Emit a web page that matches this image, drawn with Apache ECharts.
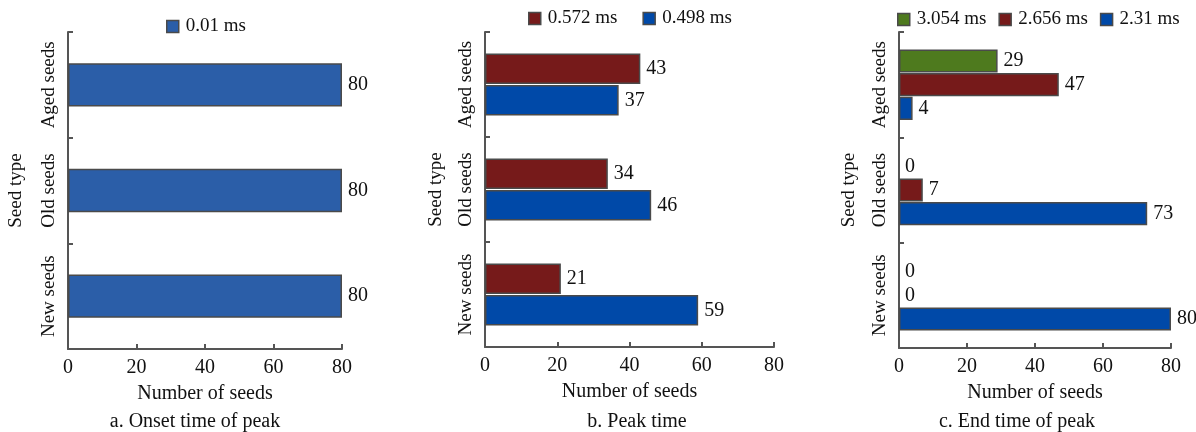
<!DOCTYPE html>
<html>
<head>
<meta charset="utf-8">
<title>Seed peak timing</title>
<script src="https://cdn.jsdelivr.net/npm/echarts@6/dist/echarts.min.js"></script>
<style>
  html, body { margin: 0; padding: 0; background: #fff; }
  #chart { width: 1196px; height: 432px; }
</style>
</head>
<body>
<div id="chart"></div>
<script>
// Seed categories, bottom to top
const categories = ['New seeds', 'Old seeds', 'Aged seeds'];
const xTicks = [0, 20, 40, 60, 80];

// a. Onset time of peak
const onsetNames = ['0.01 ms'];
const onset001 = [80, 80, 80];

// b. Peak time (first listed is drawn on top in each group)
const peakNames = ['0.572 ms', '0.498 ms'];
const peak0572 = [21, 34, 43];
const peak0498 = [59, 46, 37];

// c. End time of peak
const endNames = ['3.054 ms', '2.656 ms', '2.31 ms'];
const end3054 = [0, 0, 29];
const end2656 = [0, 7, 47];
const end231 = [80, 73, 4];

const panelTitles = ['a. Onset time of peak', 'b. Peak time', 'c. End time of peak'];
const xName = 'Number of seeds';
const yName = 'Seed type';

const FONT = '"Liberation Serif", "Times New Roman", serif';
const AXIS_COLOR = '#555';
const TEXT_COLOR = '#111';
const BAR_EDGE = '#4a4a4a';

const panels = [
  {
    grid: { left: 68, top: 32, width: 274, height: 317 },
    names: onsetNames, values: [onset001], colors: ['#2b5ea8'],
    legend: { left: 161, top: 12, itemGap: 25 },
    yNameGap: 42, labelMargin: 9, catGap: '59%', barGap: '5%',
    titleX: 195
  },
  {
    grid: { left: 485, top: 32, width: 289, height: 315 },
    names: peakNames, values: [peak0572, peak0498], colors: ['#761a1a', '#0049a8'],
    legend: { left: 523, top: 4, itemGap: 25 },
    yNameGap: 39, labelMargin: 9, catGap: '41%', barGap: '4%',
    titleX: 637
  },
  {
    grid: { left: 899, top: 32, width: 272, height: 316 },
    names: endNames, values: [end3054, end2656, end231], colors: ['#4e7a1e', '#761a1a', '#0049a8'],
    legend: { left: 892, top: 5, itemGap: 12 },
    yNameGap: 40, labelMargin: 9, catGap: '33%', barGap: '2%',
    titleX: 1017
  }
];

const option = {
  backgroundColor: '#fff',
  animation: false,
  textStyle: { fontFamily: FONT, color: TEXT_COLOR },
  grid: [], xAxis: [], yAxis: [], series: [], legend: [], graphic: []
};

// Zero-count bars draw nothing but keep their label
function barData(values) {
  return values.map(v => ({ value: v, itemStyle: { borderWidth: v === 0 ? 0 : 1.5 } }));
}

panels.forEach((p, i) => {
  option.grid.push(p.grid);
  option.xAxis.push({
    type: 'value', gridIndex: i, min: xTicks[0], max: xTicks[xTicks.length - 1],
    interval: xTicks[1] - xTicks[0],
    name: xName, nameLocation: 'middle', nameGap: 35,
    nameTextStyle: { fontSize: 20, fontFamily: FONT, color: TEXT_COLOR },
    axisLine: { show: true, lineStyle: { color: AXIS_COLOR, width: 2 } },
    axisTick: { show: true, inside: true, length: 5, lineStyle: { color: AXIS_COLOR, width: 2 } },
    axisLabel: { margin: 9, fontSize: 20, fontFamily: FONT, color: TEXT_COLOR },
    splitLine: { show: false }
  });
  option.yAxis.push({
    type: 'category', gridIndex: i, data: categories,
    name: yName, nameLocation: 'middle', nameGap: p.yNameGap,
    nameTextStyle: { fontSize: 19, fontFamily: FONT, color: TEXT_COLOR },
    axisLine: { show: true, lineStyle: { color: AXIS_COLOR, width: 2 } },
    axisTick: { show: true, inside: true, length: 5, lineStyle: { color: AXIS_COLOR, width: 2 } },
    axisLabel: { rotate: 90, interval: 0, margin: p.labelMargin, fontSize: 19, fontFamily: FONT, color: TEXT_COLOR },
    splitLine: { show: false }
  });
  p.names.forEach((name, k) => {
    option.series.push({
      type: 'bar', name: name, xAxisIndex: i, yAxisIndex: i,
      data: barData(p.values[k]),
      barCategoryGap: p.catGap, barGap: p.barGap,
      itemStyle: { color: p.colors[k], borderColor: BAR_EDGE, borderWidth: 1.5 },
      label: { show: true, position: 'right', distance: 6, fontSize: 20, fontFamily: FONT, color: TEXT_COLOR }
    });
  });

  option.legend.push({
    left: p.legend.left, top: p.legend.top, orient: 'horizontal',
    data: p.names.map(nm => ({ name: nm, icon: 'rect' })),
    itemWidth: 12, itemHeight: 12, itemGap: p.legend.itemGap,
    itemStyle: { borderColor: BAR_EDGE, borderWidth: 1.5 },
    textStyle: { fontSize: 19, fontFamily: FONT, color: TEXT_COLOR, padding: [0, 0, 0, 2] },
    selectedMode: false
  });

  option.graphic.push({
    type: 'text', x: p.titleX, y: 422,
    style: { text: panelTitles[i], font: '20px ' + FONT, fill: TEXT_COLOR, textAlign: 'center', textVerticalAlign: 'middle' }
  });
});

const chart = echarts.init(document.getElementById('chart'), null, { renderer: 'canvas' });
chart.setOption(option);
</script>
</body>
</html>
